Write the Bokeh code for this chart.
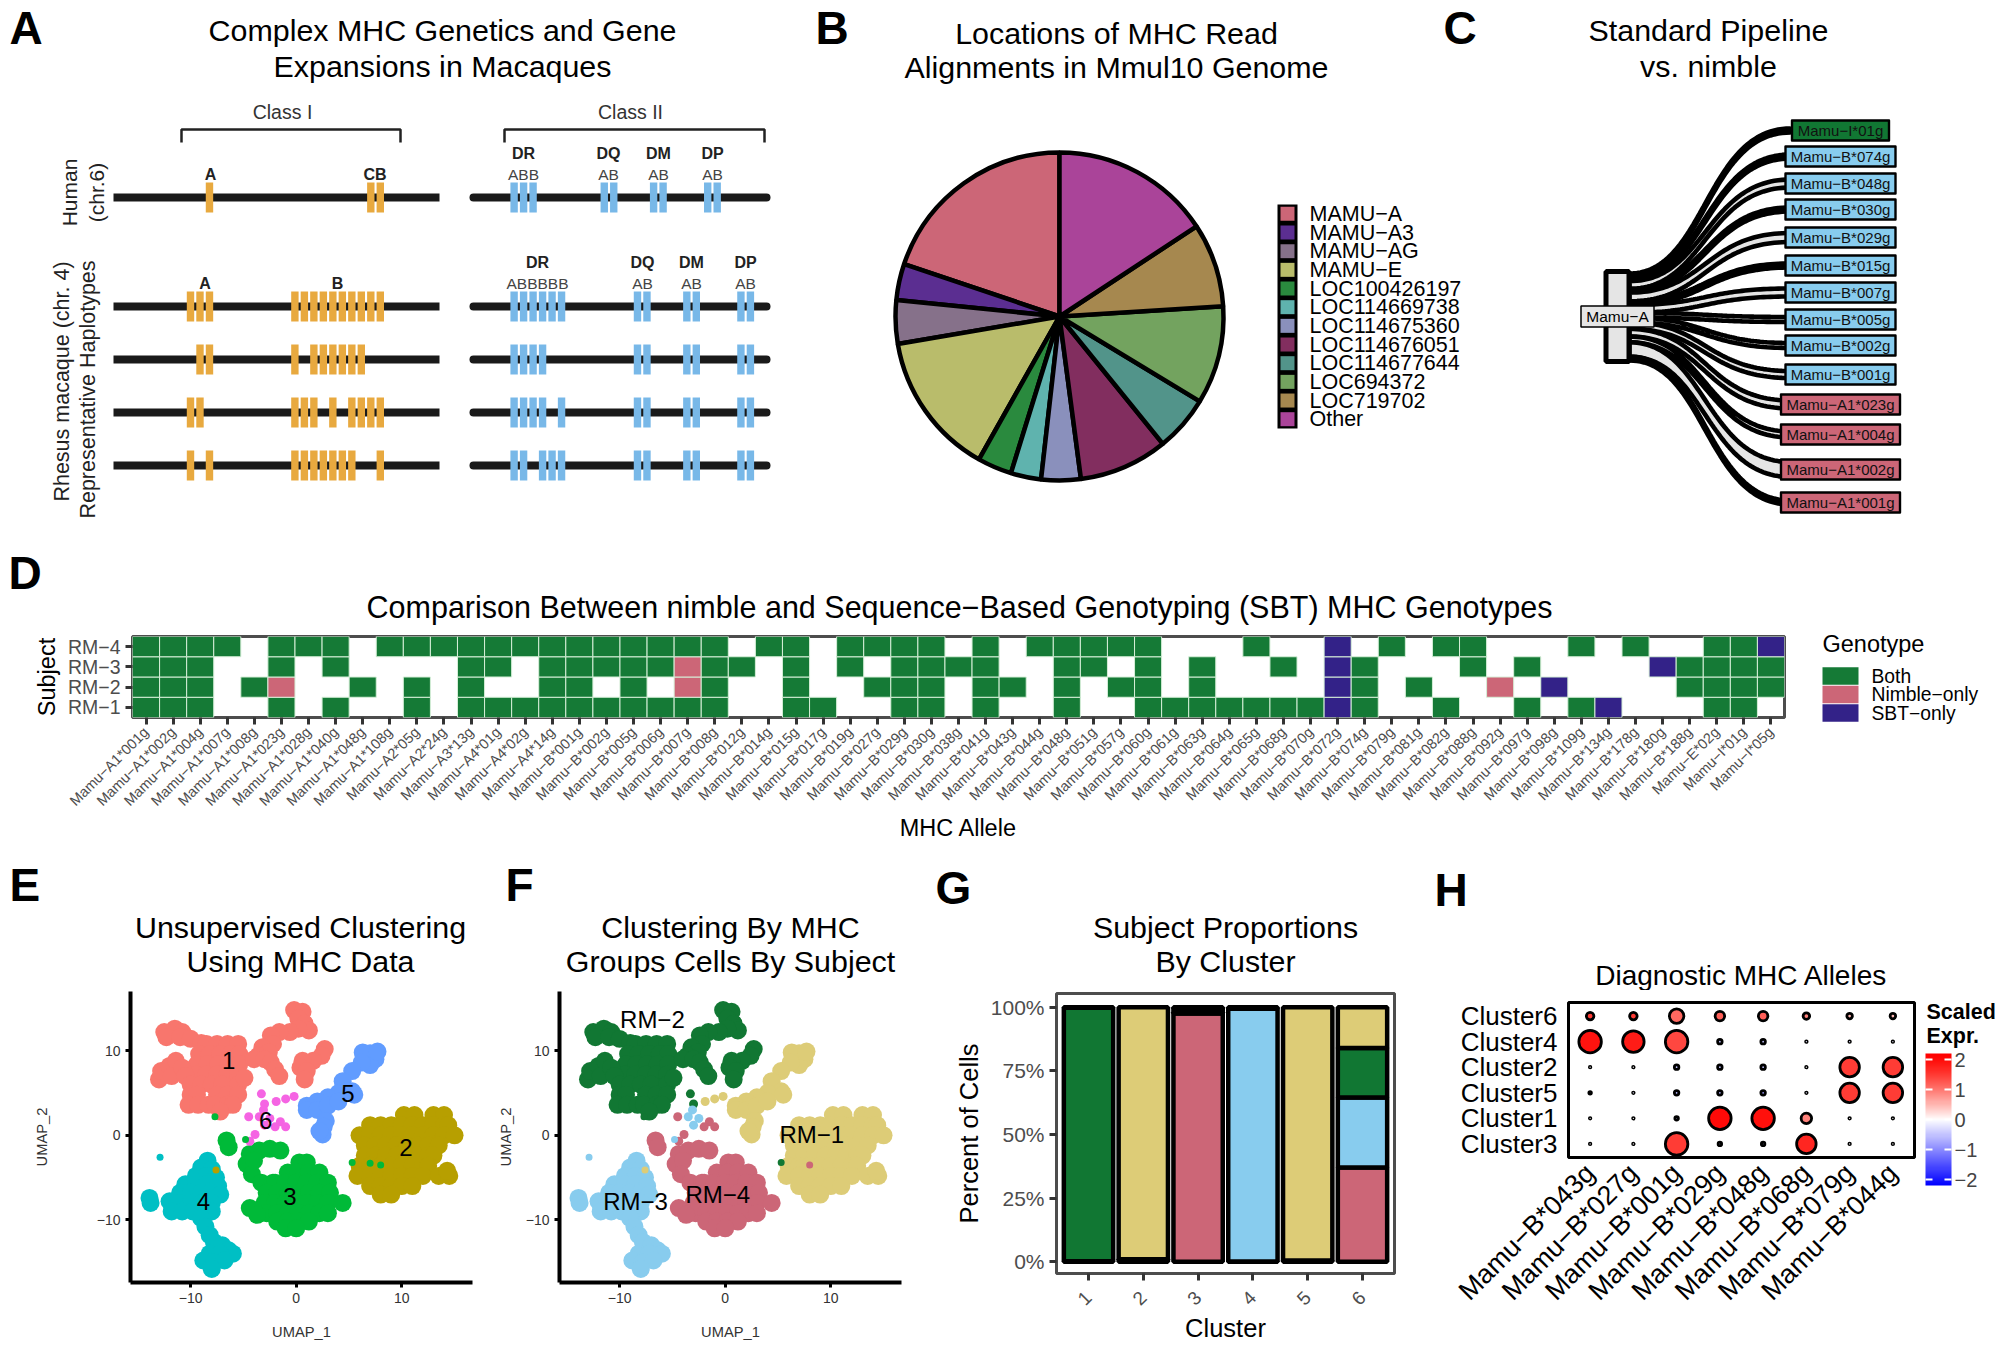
from math import pi
import numpy as np
from bokeh.plotting import figure
from bokeh.embed import file_html
from bokeh.resources import INLINE
from bokeh.layouts import column, row
from bokeh.models import (Range1d, FactorRange, FixedTicker, LinearColorMapper,
                          ColorBar, ColumnDataSource, CustomJSTickFormatter)
from bokeh.core.properties import value

FONT = "Liberation Sans"
PINK, BLUE, GREEN, YELLOW, INDIGO = "#CC6677", "#88CCEE", "#117733", "#DDCC77", "#332288"
M = "\u2212"

# ---------- A ----------
human_class1 = [2, 19, 20]
human_class2 = [34.1, 35.1, 36.1, 43.6, 44.6, 48.8, 49.8, 54.5, 55.5]
rhesus_class1 = [[0, 1, 2, 11, 12, 13, 14, 15, 16, 17, 18, 19, 20],
                 [1, 2, 11, 13, 14, 15, 16, 17, 18],
                 [0, 1, 11, 12, 13, 15, 17, 18, 19, 20],
                 [0, 2, 11, 12, 13, 14, 15, 16, 17, 20]]
rhesus_class2 = [[34.1, 35.1, 36.1, 37.1, 38.1, 39.1, 47.1, 48.1, 52.3, 53.3, 58, 59],
                 [34.1, 35.1, 36.1, 37.1, 47.1, 48.1, 52.3, 53.3, 58, 59],
                 [34.1, 35.1, 36.1, 37.1, 39.1, 47.1, 48.1, 52.3, 53.3, 58, 59],
                 [34.1, 35.1, 37.1, 38.1, 39.1, 47.1, 48.1, 52.3, 53.3, 58, 59]]

# ---------- B ----------
pie_labels = ["MAMU"+M+"A", "MAMU"+M+"A3", "MAMU"+M+"AG", "MAMU"+M+"E", "LOC100426197", "LOC114669738",
              "LOC114675360", "LOC114676051", "LOC114677644", "LOC694372", "LOC719702", "Other"]
pie_values = [19.9, 3.6, 4.3, 14.2, 3.4, 3.0, 3.9, 8.8, 5.5, 9.7, 8.3, 15.8]
pie_colors = ["#CC6677", "#5B2E91", "#86718A", "#B9BC6B", "#2A8A3E", "#5FB3AE",
              "#8A90BC", "#822E5F", "#52948A", "#73A35F", "#A6884F", "#AA4499"]

# ---------- C ----------
sankey_targets = ["Mamu"+M+"I*01g", "Mamu"+M+"B*074g", "Mamu"+M+"B*048g", "Mamu"+M+"B*030g", "Mamu"+M+"B*029g",
                  "Mamu"+M+"B*015g", "Mamu"+M+"B*007g", "Mamu"+M+"B*005g", "Mamu"+M+"B*002g", "Mamu"+M+"B*001g",
                  "Mamu"+M+"A1*023g", "Mamu"+M+"A1*004g", "Mamu"+M+"A1*002g", "Mamu"+M+"A1*001g"]
sankey_rows = [130, 156, 183, 209, 237, 265, 292, 319, 345, 374, 404, 434, 469, 502]
sankey_flow = [4, 4, 8, 4, 9, 4, 8, 5, 5, 7, 8, 6, 15, 4]
sankey_fill = [GREEN] + [BLUE]*9 + [PINK]*4

# ---------- D ----------
alleles = ["A1*001g", "A1*002g", "A1*004g", "A1*007g", "A1*008g", "A1*023g", "A1*028g", "A1*040g", "A1*048g", "A1*108g",
           "A2*05g", "A2*24g", "A3*13g", "A4*01g", "A4*02g", "A4*14g", "B*001g", "B*002g", "B*005g", "B*006g", "B*007g",
           "B*008g", "B*012g", "B*014g", "B*015g", "B*017g", "B*019g", "B*027g", "B*029g", "B*030g", "B*038g", "B*041g",
           "B*043g", "B*044g", "B*048g", "B*051g", "B*057g", "B*060g", "B*061g", "B*063g", "B*064g", "B*065g", "B*068g",
           "B*070g", "B*072g", "B*074g", "B*079g", "B*081g", "B*082g", "B*088g", "B*092g", "B*097g", "B*098g", "B*109g",
           "B*134g", "B*178g", "B*180g", "B*188g", "E*02g", "I*01g", "I*05g"]
alleles = ["Mamu"+M+a for a in alleles]
subjects = ["RM"+M+"1", "RM"+M+"2", "RM"+M+"3", "RM"+M+"4"]
geno_rm1 = "BBB..B.B.." "B.BBBBBBBB" "BB..BB..BB" ".B..B..BBB" "BBBBSB..B." ".B.BS...BB."
geno_rm2 = "BBB.BN..B." "B.B..BB.B." "NB..B..BBB" ".BB.B.BB.B" "....SB.B.." "N.S....BBBB"
geno_rm3 = "BBB..B.B.." "..BB.BBBBB" "NBB.B.B.BB" "BB..BB.B.B" "..B.SB...B" ".B....SBBBB"
geno_rm4 = "BBBB.BBB.B" "BBBBBBBBBB" "BB.BB.BBBB" ".B.BBBBB.." ".B..S.B.BB" "...B.B..BBS"
geno_names = ["Both", "Nimble"+M+"only", "SBT"+M+"only"]
geno_colors = {"B": "#157A36", "N": PINK, "S": INDIGO}

# ---------- E / F ----------
c1_x = [-12.5,-11.5,-10.8,-12.3,-11,-10,-9, -8.5,-7.5,-6.5,-5.5, -9.2,-8.2,-7.2,-6.2,-5.4, -9.4,-8.4,-7.4,-6.4,-5.4,
        -9.5,-8.5,-7.5,-6.5,-5.5, -13,-12.8,-12,-11.4,-11.8,-10.8,-10.5, -10,-9,-8,-7,-5.5,-4.9, -10,-9.4,-7.5,-6.5,-5.5,
        -10.2,-9.3,-8.3,-7.7,-6.5,-6,-7.2,
        -0.2,0.6,0.2,0.8,1.2,0.2,-0.6,-1.6,-2.4,-2.2,-3.2,-2.6,-3.6,-4,-3,-2.4,-2,-1.6,
        2.7,2.4,1.6,0.6,0.4,1,0.8]
c1_y = [12.2,12.6,12.2,11.6,11.6,11.4,10.9, 10.8,10.8,10.8,10.8, 9.6,9.6,9.6,9.6,9.6, 8.4,8.4,8.4,8.4,8.4,
        7.2,7.2,7.2,7.2,7.2, 6.6,7.6,8.2,8.8,7,8,7, 6,6,6,6,6,6.8, 4.8,4.8,4.8,4.8,4.8,
        3.6,3.6,3.6,3.6,3.6,3.6,2.8,
        14.8,14.6,13.8,13.2,12.4,12.6,12.2,12.2,11.8,10.8,10.4,9.8,9.4,9,9,8.6,7.8,7,
        10.2,9.4,8.8,8.8,8,7.6,6.6]
c2_x = [10.2,11.2,13,14, 7,8,9,10,11,12,13,14,14.4, 6,7,8,9,10,11,12,13,14,15,
        6.5,7.5,8.5,9.5,10.5,11.5,12.5,13.5, 6.5,7.5,8.5,9.5,10.5,11.5,12.5,13, 6,7,8,9,10,11,12,12.5,
        5.8,7,8,9,10,11,12,13.5,14.5, 7,8,9,10,11, 8,9, 14.3]
c2_y = [2.4,2.4,2.4,2.4, 1.2,1.2,1.2,1.2,1.2,1.2,1.2,1.2,1.2, 0,0,0,0,0,0,0,0,0,0,
        -1.2,-1.2,-1.2,-1.2,-1.2,-1.2,-1.2,-1.2, -2.4,-2.4,-2.4,-2.4,-2.4,-2.4,-2.4,-2.4, -3.6,-3.6,-3.6,-3.6,-3.6,-3.6,-3.6,-3.6,
        -4.8,-4.8,-4.8,-4.8,-4.8,-4.8,-4.8,-4.8,-4.8, -6,-6,-6,-6,-6, -7,-7, -4.2]
c3_x = [-4.4,-3.5,-2.5,-1.5,-4.7,-4,-4.2,-3.3,-2.2, 0.3,1, -0.8,0.2,1.2,2.2, -2,-1,0,1,2,3, -2.8,-1.8,-0.8,0.2,1.2,2.2,3.2,
        -3,-2,-1,0,1,2,3,4.4, -2.8,-1.8,-0.8,0.2,1.2,2.2,3, -1.8,-0.8,0.2,1.2, -1,0, -4.4,-3.7, -6.6,-6.4]
c3_y = [-2.2,-1.8,-1.6,-1.8,-3.4,-3,-4.6,-5.6,-5.6, -3.2,-3.2, -4.4,-4.4,-4.4,-4.4, -5.6,-5.6,-5.6,-5.6,-5.6,-5.6,
        -6.8,-6.8,-6.8,-6.8,-6.8,-6.8,-6.8, -8,-8,-8,-8,-8,-8,-8,-8, -9.2,-9.2,-9.2,-9.2,-9.2,-9.2,-9.2,
        -10.2,-10.2,-10.2,-10.2, -11,-11, -8.6,-9.4, -0.6,-1.4]
c4_x = [-8.4,-9,-8,-9.5,-8.5,-7.6,-10.5,-9.5,-8.5,-7.4,-11,-10,-9,-8,-7.2,-12,-11,-10,-9,-8,-11.8,-10.8,-9.8,-8.8,-8,-9,
        -8.6,-8.2,-7.8,-7,-6.4,-6, -8.2,-7.2,-8.8,-7.8,-6.8,-8, -13.9,-13.8]
c4_y = [-3,-3.8,-4,-4.8,-4.8,-5,-5.8,-5.8,-5.8,-6,-6.8,-6.8,-6.8,-6.8,-7,-7.8,-8,-8,-8,-8,-9,-9,-9,-9,-9,-9.8,
        -10.8,-11.8,-12.6,-13,-13.6,-14, -14,-14,-14.8,-15,-14.8,-15.8, -7.4,-8]
c5_x = [7,7.5,6.5,7,6.3,7.7,6.2,5.3,4.4,5.3,4,3,2,1,1,2,3,4,5.5,2.8,2.5,2.6,2.2]
c5_y = [9.7,9,9,8.3,9.8,9.9,8.6,7.6,6.4,5.2,5,4.5,4,3.5,3,3,3.5,4,4.8,1.7,0.1,1,0.5]
c6_x = [-4.5,-3.5,-2.5,-1.5,-1,-2,-3, -3.3,-3,-3.1,-3.9,-4.4, -1.9,-1,-0.2]
c6_y = [2.2,2.2,2,1.6,1,1,1.2, 4.9,3.7,3,0.1,-0.7, 4,4.3,4.6]
c6_subject = [PINK, BLUE, BLUE, PINK, PINK, PINK, BLUE, GREEN, GREEN, BLUE, PINK, PINK, YELLOW, YELLOW, YELLOW]
speck_x = [-7.7, 5.3, 7, 8, -7.6, -4.8, -12.9]
speck_y = [2.2, -3.2, -3.3, -3.5, -4.1, -0.5, -2.6]
speck_e = ["#00BA38", "#00BA38", "#00BA38", "#00BA38", "#B79F00", "#00BA38", "#00BFC4"]
speck_f = [GREEN, GREEN, YELLOW, PINK, YELLOW, BLUE, BLUE]
clusters = [(c1_x, c1_y), (c2_x, c2_y), (c3_x, c3_y), (c4_x, c4_y), (c5_x, c5_y), (c6_x, c6_y)]
cluster_colors = ["#F8766D", "#B79F00", "#00BA38", "#00BFC4", "#619CFF", "#F564E3"]
cluster_subject = [GREEN, YELLOW, PINK, BLUE, YELLOW, None]
cluster_labels = [("1", -6.4, 8.8), ("2", 10.4, -1.5), ("3", -0.6, -7.2), ("4", -8.8, -7.8), ("5", 4.9, 5), ("6", -2.9, 1.7)]
subject_labels = [("RM"+M+"2", -6.9, 13.7), ("RM"+M+"1", 8.2, 0.1), ("RM"+M+"3", -8.5, -7.8), ("RM"+M+"4", -0.7, -7)]

# ---------- G ----------
g_clusters = ["1", "2", "3", "4", "5", "6"]
g_pink = [0.2, 1, 97.5, 0.1, 0.5, 37]
g_blue = [0, 0, 0.5, 99.3, 0, 27.5]
g_green = [99.6, 0, 1.5, 0.3, 0, 19.5]
g_yellow = [0.2, 99, 0.5, 0.3, 99.5, 16]

# ---------- H ----------
h_alleles = ["Mamu"+M+"B*043g", "Mamu"+M+"B*027g", "Mamu"+M+"B*001g", "Mamu"+M+"B*029g",
             "Mamu"+M+"B*048g", "Mamu"+M+"B*068g", "Mamu"+M+"B*079g", "Mamu"+M+"B*044g"]
h_clusters = ["Cluster3", "Cluster1", "Cluster5", "Cluster2", "Cluster4", "Cluster6"]
h_size = [[4, 4, 25, 6, 6, 22, 3, 3], [4, 4, 6, 25, 25, 13, 3, 3], [5, 4, 7, 7, 7, 4, 22, 22],
          [4, 4, 7, 7, 7, 4, 22, 22], [25, 24, 25, 7, 7, 4, 4, 4], [10, 10, 17, 12, 12, 9, 8, 8]]
h_expr = [[0, 0, 1.5, -.5, -.5, 1.7, 0, 0], [0, 0, -.5, 2, 1.95, .9, 0, 0], [-.3, -.3, -.6, -.6, -.8, -.3, 1.5, 1.5],
          [0, 0, -.5, -.5, -.5, 0, 1.5, 1.5], [1.9, 1.8, 1.4, -.5, -.5, -.3, -.3, -.3], [1.5, 1.5, 1.1, 1.2, 1.2, .9, .5, .5]]


def make(x0, y0, w, h, fl, fr, ft, fb, xr, yr):
    """Figure at page position (x0,y0), frame at (fl..fr, ft..fb) page px."""
    p = figure(width=w, height=h, min_border_left=fl-x0, min_border_right=x0+w-fr, min_border_top=ft-y0,
               min_border_bottom=y0+h-fb, x_range=xr, y_range=yr, toolbar_location=None, output_backend="svg",
               outline_line_color=None, border_fill_color=None, background_fill_color=None, frame_align=False)
    p.xgrid.visible = False
    p.ygrid.visible = False
    return p


def sheet(x0, y0, x1, y1):
    """Axis-free figure whose coordinates are page px."""
    p = make(x0, y0, x1-x0, y1-y0, x0, x1, y0, y1, Range1d(x0, x1), Range1d(y1, y0))
    p.xaxis.visible = False
    p.yaxis.visible = False
    return p


def txt(p, x, y, s, size, style="normal", color="black", align="center", angle=0, baseline="middle"):
    p.text(x=[x], y=[y], text=[s], text_font=value(FONT), text_font_size=value(f"{size}px"), angle=angle,
           text_font_style=style, text_color=color, text_align=align, text_baseline=baseline)


def letter(p, s, X, Y):
    txt(p, X, Y, s, 46, style="bold", align="left")


# ---- panel A
A = sheet(0, 0, 800, 540)
txt(A, 442, 29, "Complex MHC Genetics and Gene", 30.4)
txt(A, 442, 65, "Expansions in Macaques", 30.4)
letter(A, "A", 9, 27)
slot = lambda s: 190 + 9.49*np.array(s, dtype=float)
tracks = [197, 306, 359, 412, 465]
A.segment(x0=[113]*5, y0=tracks, x1=[439]*5, y1=tracks, line_color="#1a1a1a", line_width=8)
A.segment(x0=[473]*5, y0=tracks, x1=[766]*5, y1=tracks, line_color="#1a1a1a", line_width=8, line_cap="round")
cl1 = [human_class1] + rhesus_class1
cl2 = [human_class2] + rhesus_class2
for y, s1, s2 in zip(tracks, cl1, cl2):
    A.rect(x=slot(s1), y=[y]*len(s1), width=7.4, height=30, fill_color="#E8A93F", line_color=None)
    A.rect(x=slot(s2), y=[y]*len(s2), width=7.4, height=30, fill_color="#78B8E8", line_color=None)
A.multi_line(xs=[[181, 181, 400, 400], [504, 504, 764, 764]], ys=[[142, 129, 129, 142]]*2, line_color="#222222", line_width=2.5)
txt(A, 282, 111, "Class I", 19.5, color="#333333")
txt(A, 630, 111, "Class II", 19.5, color="#333333")
for s, x, y in [("A", 210, 174), ("CB", 374.5, 174), ("DR", 523, 153), ("DQ", 608, 153), ("DM", 658, 153), ("DP", 712, 153),
                ("A", 204.6, 283), ("B", 337, 283), ("DR", 537, 262), ("DQ", 642, 262), ("DM", 691, 262), ("DP", 745, 262)]:
    txt(A, x, y, s, 16, style="bold", color="#222222")
for s, x, y in [("ABB", 523, 174), ("AB", 608, 174), ("AB", 658, 174), ("AB", 712, 174),
                ("ABBBBB", 537, 283), ("AB", 642, 283), ("AB", 691, 283), ("AB", 745, 283)]:
    txt(A, x, y, s, 15.5, color="#444444")
txt(A, 69, 192, "Human", 21, angle=pi/2, color="#222222")
txt(A, 96, 192, "(chr.6)", 21, angle=pi/2, color="#222222")
txt(A, 61, 381, "Rhesus macaque (chr. 4)", 21.5, angle=pi/2, color="#222222")
txt(A, 87, 389, "Representative Haplotypes", 21.5, angle=pi/2, color="#222222")

# ---- panel B (its sheet also carries the letter of panel C)
CX, CY = 1059, 316
B = make(800, 0, 700, 540, 800, 1500, 0, 540, Range1d(800-CX, 1500-CX), Range1d(CY-540, CY))
B.xaxis.visible = False
B.yaxis.visible = False
txt(B, 1116-CX, CY-32, "Locations of MHC Read", 30.4)
txt(B, 1116-CX, CY-66, "Alignments in Mmul10 Genome", 30.4)
letter(B, "B", 815-CX, CY-27)
letter(B, "C", 1443-CX, CY-27)
vals = np.array(pie_values)/sum(pie_values)*360
cum = np.cumsum(vals[::-1])[::-1]       # clockwise from 12 o'clock, last category first
ends = (90-(cum-vals))*pi/180
starts = (90-cum)*pi/180
B.wedge(x=0, y=0, radius=164, start_angle=starts, end_angle=ends, direction="anticlock",
        fill_color=pie_colors, line_color="black", line_width=4.5)
n = len(pie_labels)
ly = [CY-(204+9.33+18.67*i) for i in range(n)]
B.rect(x=[1287-CX], y=[CY-316], width=20, height=224, fill_color="black", line_color=None)
B.rect(x=[1287-CX]*n, y=ly, width=14, height=14, fill_color=pie_colors, line_color=None)
B.text(x=[1309-CX]*n, y=ly, text=pie_labels, text_font=value(FONT), text_font_size=value("21.5px"),
       text_baseline="middle", text_align="left")

# ---- panel C
C = sheet(1500, 0, 1995, 540)
txt(C, 1708, 29, "Standard Pipeline", 30.4)
txt(C, 1708, 65, "vs. nimble", 30.4)
flow = np.array(sankey_flow, dtype=float)
scale = 87/flow.sum()
tops = 273 + np.concatenate([[0], np.cumsum(flow*scale)[:-1]])
t = np.linspace(0, 1, 60)
xb = (1-t)**3*1629 + 3*(1-t)**2*t*1705 + 3*(1-t)*t**2*1705 + t**3*1790
xs, ys = [], []
for i, w in enumerate(flow):
    s0, s1 = tops[i], tops[i]+w*scale
    e0, e1 = sankey_rows[i]-w/2, sankey_rows[i]+w/2
    bez = lambda a, b: (1-t)**3*a + 3*(1-t)**2*t*a + 3*(1-t)*t**2*b + t**3*b
    xs.append(np.concatenate([xb, xb[::-1]]))
    ys.append(np.concatenate([bez(s0, e0), bez(s1, e1)[::-1]]))
C.patches(xs=xs, ys=ys, fill_color="#E5E5E5", line_color="black", line_width=4.6)
C.rect(x=[1617], y=[316], width=23, height=90, fill_color="#E5E5E5", line_color="black", line_width=5)
C.rect(x=[1617], y=[316], width=73, height=21, fill_color="#E5E5E5", line_color="black", line_width=1.5)
txt(C, 1617, 316, "Mamu"+M+"A", 15.5)
bw = [97] + [110]*9 + [119]*4
C.rect(x=[1840]*14, y=sankey_rows, width=bw, height=[20]*14, fill_color=sankey_fill, line_color="black", line_width=2.4, line_join="round")
C.text(x=[1840]*14, y=sankey_rows, text=sankey_targets, text_font=value(FONT), text_font_size=value("15px"),
       text_align="center", text_baseline="middle", text_color="#111111")

# ---- panel D
DS = sheet(0, 540, 1995, 630)
letter(DS, "D", 8, 572)
txt(DS, 959, 606, "Comparison Between nimble and Sequence"+M+"Based Genotyping (SBT) MHC Genotypes", 30.5)
D = make(0, 630, 1808, 220, 132, 1784, 636, 717, FactorRange(factors=alleles, range_padding=0), FactorRange(factors=subjects, range_padding=0))
D.outline_line_color = "#4d4d4d"
D.outline_line_width = 3
cx, cy, cc = [], [], []
for subj, g in zip(subjects, [geno_rm1, geno_rm2, geno_rm3, geno_rm4]):
    for a, v in zip(alleles, g):
        if v != ".":
            cx.append(a); cy.append(subj); cc.append(geno_colors[v])
D.rect(x=cx, y=cy, width=1, height=1, fill_color=cc, line_color="#D6EFD8", line_width=1)
D.axis.major_tick_line_color = "#333333"
D.axis.major_tick_line_width = 3
D.axis.major_tick_in = 0
D.axis.major_tick_out = 7
D.axis.axis_line_color = None
D.axis.major_label_text_font = FONT
D.axis.major_label_text_color = "#4d4d4d"
D.xaxis.major_label_orientation = pi/4
D.xaxis.major_label_text_font_size = "14.5px"
D.yaxis.major_label_text_font_size = "19.5px"
D.xaxis.axis_label = "MHC Allele"
D.yaxis.axis_label = "Subject"
D.xaxis.axis_label_standoff = -3
D.axis.axis_label_text_font = FONT
D.axis.axis_label_text_font_style = "normal"
D.axis.axis_label_text_font_size = "23.5px"
D.axis.axis_label_text_color = "black"

DL = sheet(1808, 630, 1995, 850)
txt(DL, 1822, 643, "Genotype", 23.5, align="left")
key_y = [675.5, 694, 712.5]
DL.rect(x=[1840]*3, y=key_y, width=36, height=17.5, fill_color=[geno_colors[k] for k in "BNS"], line_color=None)
DL.text(x=[1871]*3, y=key_y, text=geno_names, text_font=value(FONT), text_font_size=value("19.3px"), text_baseline="middle", text_align="left")

# ---- strip holding the letters and titles of E to H
ES = sheet(0, 850, 1995, 990)
for s, x, y in [("E", 9, 884), ("F", 505, 884), ("G", 935, 887), ("H", 1434, 889)]:
    letter(ES, s, x, y)
for s, x, y in [("Unsupervised Clustering", 300, 926), ("Using MHC Data", 300, 960),
                ("Clustering By MHC", 730, 926), ("Groups Cells By Subject", 730, 960),
                ("Subject Proportions", 1225, 926), ("By Cluster", 1225, 960)]:
    txt(ES, x, y, s, 30.4)
txt(ES, 1741, 975, "Diagnostic MHC Alleles", 28)


# ---- panels E, F
def umap(x0, w, fl, fr, mode, standoff):
    p = make(x0, 990, w, 355, fl, fr, 991, 1282, Range1d(-15.7, 16.7), Range1d(-17.4, 17))
    for k, (x, y) in enumerate(clusters):
        if mode == "cluster":
            col = [cluster_colors[k]]*len(x)
        else:
            col = c6_subject if k == 5 else [cluster_subject[k]]*len(x)
        p.scatter(x=x, y=y, size=9 if k == 5 else 18, fill_color=col, line_color=None)
    p.scatter(x=speck_x, y=speck_y, size=7, fill_color=speck_e if mode == "cluster" else speck_f, line_color=None)
    labs = cluster_labels if mode == "cluster" else subject_labels
    p.text(x=[a[1] for a in labs], y=[a[2] for a in labs], text=[a[0] for a in labs], text_font=value(FONT),
           text_font_size=value("24px"), text_align="center", text_baseline="middle")
    p.axis.ticker = FixedTicker(ticks=[-10, 0, 10])
    p.axis.axis_line_color = "black"
    p.axis.axis_line_width = 4
    p.axis.major_tick_line_color = "black"
    p.axis.major_tick_line_width = 3
    p.axis.major_tick_in = 0
    p.axis.major_tick_out = 5
    p.axis.minor_tick_line_color = None
    p.axis.major_label_text_font = FONT
    p.axis.major_label_text_font_size = "14px"
    p.axis.major_label_text_color = "#333333"
    p.xaxis.axis_label = "UMAP_1"
    p.yaxis.axis_label = "UMAP_2"
    p.axis.axis_label_text_font = FONT
    p.axis.axis_label_text_font_style = "normal"
    p.axis.axis_label_text_font_size = "14.7px"
    p.axis.axis_label_text_color = "#333333"
    p.xaxis.axis_label_standoff = 18
    p.yaxis.axis_label_standoff = standoff
    return p


E = umap(0, 480, 130, 472, "cluster", 44)
F = umap(480, 440, 559, 901, "subject", 9)

# ---- panel G
G = make(920, 990, 495, 355, 1056, 1394, 993, 1280, FactorRange(factors=g_clusters, range_padding=0.028), Range1d(-4.6, 105.4))
src = ColumnDataSource(dict(c=g_clusters, pink=g_pink, blue=g_blue, green=g_green, yellow=g_yellow))
G.vbar_stack(["pink", "blue", "green", "yellow"], x="c", width=0.9, source=src, fill_color=[PINK, BLUE, GREEN, YELLOW],
             line_color="black", line_width=4.5)
G.outline_line_color = "#4d4d4d"
G.outline_line_width = 3
G.yaxis.ticker = FixedTicker(ticks=[0, 25, 50, 75, 100])
G.yaxis.formatter = CustomJSTickFormatter(code="return tick + '%'")
G.axis.major_tick_line_color = "#333333"
G.axis.major_tick_line_width = 3
G.axis.major_tick_in = 0
G.axis.major_tick_out = 7
G.axis.minor_tick_line_color = None
G.axis.axis_line_color = None
G.axis.major_label_text_font = FONT
G.axis.major_label_text_color = "#4d4d4d"
G.yaxis.major_label_text_font_size = "21px"
G.xaxis.major_label_text_font_size = "19px"
G.xaxis.major_label_orientation = pi/4
G.xaxis.major_label_standoff = 14
G.xaxis.axis_label_standoff = 0
G.xaxis.axis_label = "Cluster"
G.yaxis.axis_label = "Percent of Cells"
G.axis.axis_label_text_font = FONT
G.axis.axis_label_text_font_style = "normal"
G.axis.axis_label_text_font_size = "25.5px"
G.axis.axis_label_text_color = "black"

# ---- panel H
H = make(1415, 990, 503, 355, 1568, 1914, 1002, 1157, FactorRange(factors=h_alleles, range_padding=0), FactorRange(factors=h_clusters, range_padding=0.01))
H.outline_line_color = "black"
H.outline_line_width = 3
hx, hy, hs, he = [], [], [], []
for i, c in enumerate(h_clusters):
    for j, a in enumerate(h_alleles):
        hx.append(a); hy.append(c); hs.append(max(h_size[i][j]-2.5, 1.5)); he.append(h_expr[i][j])
ramp = []
for v in np.linspace(-1, 1, 128):
    if v < 0:
        a = -v
        ramp.append("#%02x%02x%02x" % (int(255*(1-a)), int(255*(1-a)), 255))
    else:
        ramp.append("#%02x%02x%02x" % (255, int(255*(1-v)**1.25), int(255*(1-v)**1.35)))
mapper = LinearColorMapper(palette=ramp, low=-2.2, high=2.2)
hsrc = ColumnDataSource(dict(x=hx, y=hy, s=hs, e=he))
H.scatter(x="x", y="y", size="s", source=hsrc, fill_color=dict(field="e", transform=mapper), line_color="black", line_width=2.8)
H.axis.major_tick_line_color = None
H.axis.axis_line_color = None
H.axis.major_label_text_font = FONT
H.axis.major_label_text_color = "black"
H.yaxis.major_label_text_font_size = "26px"
H.xaxis.major_label_text_font_size = "27px"
H.xaxis.major_label_orientation = pi/4

HL = sheet(1918, 990, 1995, 1345)
txt(HL, 1926, 1011, "Scaled", 21.5, style="bold", align="left")
txt(HL, 1926, 1035, "Expr.", 21.5, style="bold", align="left")
cb = ColorBar(color_mapper=mapper, width=26, height=132, location=(7, 160), ticker=FixedTicker(ticks=[-2, -1, 0, 1, 2]),
              major_tick_line_color="white", major_tick_in=26, major_tick_line_width=2, major_tick_line_dash="7 12",
              major_label_text_font=FONT, major_label_text_font_size="20px", label_standoff=3,
              background_fill_color=None, padding=0, border_line_color=None)
HL.add_layout(cb, "center")

page = column(row(A, B, C, spacing=0), DS, row(D, DL, spacing=0), ES, row(E, F, G, H, HL, spacing=0), spacing=0)
open("out.html", "w").write(file_html(page, INLINE))
